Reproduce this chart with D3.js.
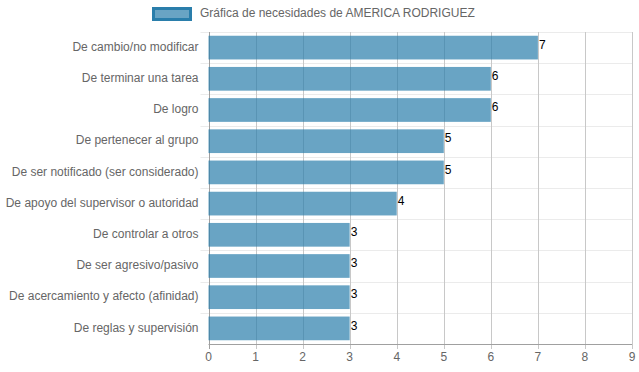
<!DOCTYPE html>
<html>
<head>
<meta charset="utf-8">
<script src="https://cdn.jsdelivr.net/npm/d3@7"></script>
<style>
  body { margin: 0; background: #fff; }
  text { font-family: "Liberation Sans", Arial, sans-serif; }
</style>
</head>
<body>
<div id="main"></div>
<script>
const categories = [
    "De cambio/no modificar",
    "De terminar una tarea",
    "De logro",
    "De pertenecer al grupo",
    "De ser notificado (ser considerado)",
    "De apoyo del supervisor o autoridad",
    "De controlar a otros",
    "De ser agresivo/pasivo",
    "De acercamiento y afecto (afinidad)",
    "De reglas y supervisión"
];
const values = [7, 6, 6, 5, 5, 4, 3, 3, 3, 3];
const xTicks = [0, 1, 2, 3, 4, 5, 6, 7, 8, 9];
const seriesName = "Gráfica de necesidades de AMERICA RODRIGUEZ";

const W = 639, H = 372;
const margin = {top: 32, right: 7, bottom: 28, left: 208.5};

const svg = d3.select('#main').append('svg')
    .attr('width', W)
    .attr('height', H);

const x = d3.scaleLinear()
    .domain([0, 9])
    .range([margin.left, W - margin.right]);

const y = d3.scaleBand()
    .domain(categories)
    .range([margin.top, H - margin.bottom]);

// horizontal grid at category boundaries
const bounds = categories.map(c => y(c));
svg.append('g').selectAll('line')
    .data(bounds)
    .enter().append('line')
    .attr('x1', margin.left - 8)
    .attr('x2', W - margin.right)
    .attr('y1', d => Math.round(d) + 0.5)
    .attr('y2', d => Math.round(d) + 0.5)
    .attr('stroke', '#ebebeb');

// vertical grid
svg.append('g').selectAll('line')
    .data(xTicks)
    .enter().append('line')
    .attr('x1', d => Math.round(x(d)) + 0.5)
    .attr('x2', d => Math.round(x(d)) + 0.5)
    .attr('y1', margin.top)
    .attr('y2', H - margin.bottom + 5)
    .attr('stroke', d => d === 0 ? '#a0a0a0' : '#c8c8c8');

// x axis line
svg.append('line')
    .attr('x1', margin.left)
    .attr('x2', W - margin.right)
    .attr('y1', H - margin.bottom + 0.5)
    .attr('y2', H - margin.bottom + 0.5)
    .attr('stroke', '#a0a0a0');

// bars
const bh = y.bandwidth() * 0.76;
svg.append('g').selectAll('rect')
    .data(values)
    .enter().append('rect')
    .attr('x', x(0))
    .attr('y', (d, i) => y(categories[i]) + (y.bandwidth() - bh) / 2)
    .attr('width', d => x(d) - x(0))
    .attr('height', bh)
    .attr('fill', 'rgba(42,126,171,0.7)');

// value labels
svg.append('g').selectAll('text')
    .data(values)
    .enter().append('text')
    .attr('x', d => x(d) + 1)
    .attr('y', (d, i) => y(categories[i]) + y.bandwidth() / 2 - 2)
    .attr('dominant-baseline', 'middle')
    .attr('font-size', 12)
    .attr('fill', '#000')
    .text(d => d);

// category labels
svg.append('g').selectAll('text')
    .data(categories)
    .enter().append('text')
    .attr('x', margin.left - 10)
    .attr('y', d => y(d) + y.bandwidth() / 2)
    .attr('dominant-baseline', 'middle')
    .attr('text-anchor', 'end')
    .attr('font-size', 12)
    .attr('fill', '#666')
    .text(d => d);

// x tick labels
svg.append('g').selectAll('text')
    .data(xTicks)
    .enter().append('text')
    .attr('x', d => x(d))
    .attr('y', H - margin.bottom + 14)
    .attr('dominant-baseline', 'middle')
    .attr('text-anchor', 'middle')
    .attr('font-size', 12)
    .attr('fill', '#666')
    .text(d => d);

// legend
svg.append('rect')
    .attr('x', 153.5)
    .attr('y', 8.5)
    .attr('width', 37)
    .attr('height', 11)
    .attr('fill', 'rgba(42,126,171,0.7)')
    .attr('stroke', 'rgb(42,126,171)')
    .attr('stroke-width', 3);

svg.append('text')
    .attr('x', 200)
    .attr('y', 14)
    .attr('dominant-baseline', 'middle')
    .attr('font-size', 12)
    .attr('fill', '#666')
    .text(seriesName);
</script>
</body>
</html>
